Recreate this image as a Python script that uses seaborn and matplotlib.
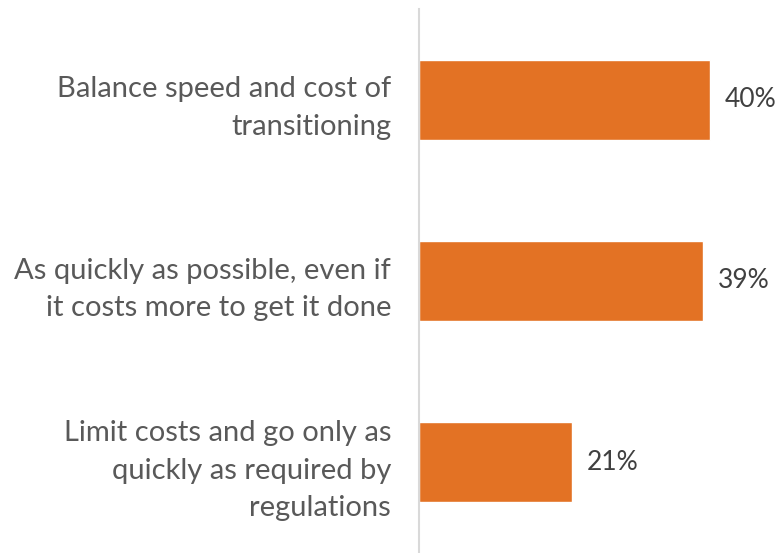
import matplotlib
matplotlib.use("Agg")
import matplotlib.pyplot as plt
import seaborn as sns
import pandas as pd

categories = [
    "Balance speed and cost of\ntransitioning",
    "As quickly as possible, even if\nit costs more to get it done",
    "Limit costs and go only as\nquickly as required by\nregulations",
]
values = [40, 39, 21]
value_labels = ["40%", "39%", "21%"]

sns.set_style("white")
plt.rcParams["font.family"] = ["Lato", "DejaVu Sans"]

df = pd.DataFrame({"cat": categories, "val": values})

fig = plt.figure(figsize=(7.82, 5.53), dpi=100)
ax = fig.add_axes([419 / 782, 0.0, 364 / 782, 1 - 9 / 553])
sns.barplot(data=df, y="cat", x="val", orient="h", color="#E37224",
            saturation=1, width=0.44, ax=ax)
ax.set_xlim(0, 50)
ax.set_ylim(2.5, -0.5)
ax.set_xlabel("")
ax.set_ylabel("")
ax.set_xticks([])
for s in ["top", "right", "bottom"]:
    ax.spines[s].set_visible(False)
ax.spines["left"].set_color("#D9D9D9")
ax.spines["left"].set_linewidth(1.5)
ax.tick_params(axis="y", length=0, pad=20, labelsize=21, labelcolor="#595959")
for lbl in ax.get_yticklabels():
    lbl.set_horizontalalignment("right")
    lbl.set_multialignment("right")
    lbl.set_linespacing(1.55)
for i, (v, t) in enumerate(zip(values, value_labels)):
    ax.text(v + 2.0, i, t, va="center", ha="left", fontsize=19, color="#404040")

fig.savefig("out.png", dpi=100)
